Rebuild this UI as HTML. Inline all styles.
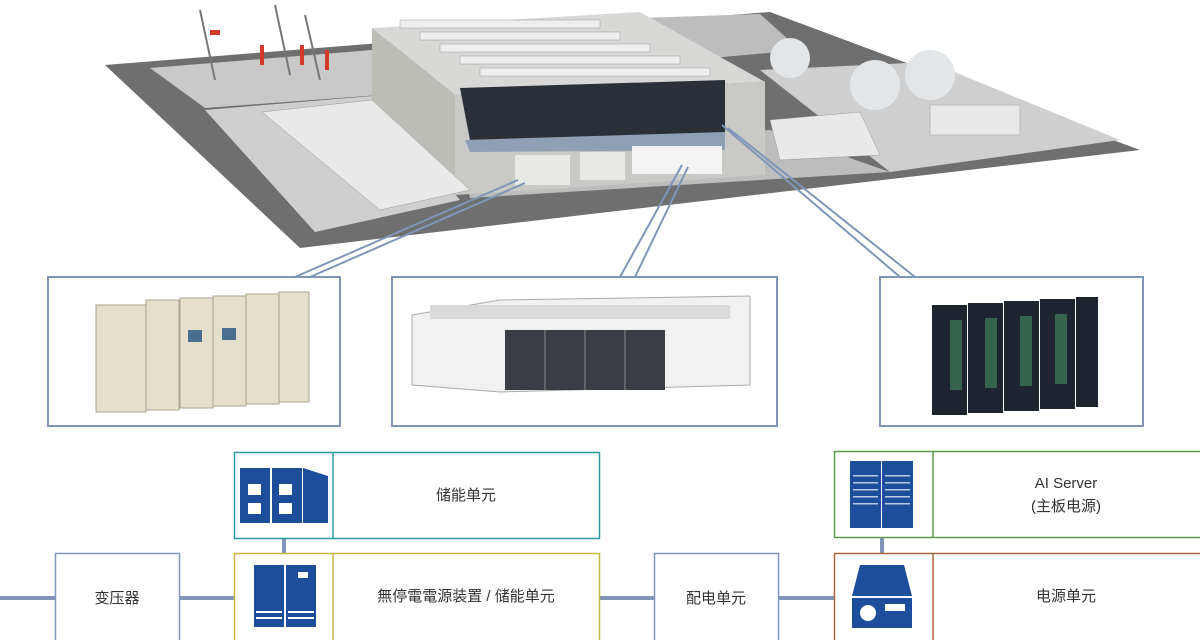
<!DOCTYPE html>
<html><head><meta charset="utf-8"><style>
html,body{margin:0;padding:0;background:#fff;}
svg{display:block;}
text{font-family:"Liberation Sans","Noto Sans CJK SC",sans-serif;fill:#333;}
</style></head><body>
<svg width="1200" height="640" viewBox="0 0 1200 640" xmlns="http://www.w3.org/2000/svg">
<!-- ground -->
<polygon points="105,65 770,12 1140,150 300,248" fill="#6f6f70"/>
<polygon points="150,68 372,50 380,95 205,108" fill="#c9c9c9"/>
<polygon points="205,110 372,96 460,200 315,232" fill="#cfcfcf"/>
<polygon points="760,70 930,62 1120,140 890,172" fill="#cfcfcf"/>
<polygon points="640,18 760,14 800,50 690,60" fill="#bdbdbd"/>
<polygon points="460,150 770,130 890,172 470,198" fill="#bdbdbd"/>
<!-- building -->
<polygon points="372,28 640,12 765,82 455,95" fill="#d8d8d6"/>
<polygon points="372,28 455,95 455,195 372,150" fill="#bdbdb8"/>
<polygon points="455,95 765,82 765,175 455,195" fill="#c9c9c5"/>
<polygon points="460,88 725,80 725,135 470,140" fill="#2b2f38"/>
<polygon points="465,140 725,132 725,150 470,152" fill="#8fa0b5"/>
<g fill="#e8e8e4">
<rect x="515" y="155" width="55" height="30"/><rect x="580" y="152" width="45" height="28"/>
<rect x="632" y="146" width="90" height="28" fill="#f3f3f3"/>
</g>
<!-- rooftop units -->
<g fill="#eeeeee" stroke="#999" stroke-width="0.5">
<rect x="400" y="20" width="200" height="8"/><rect x="420" y="32" width="200" height="8"/>
<rect x="440" y="44" width="210" height="8"/><rect x="460" y="56" width="220" height="8"/>
<rect x="480" y="68" width="230" height="8"/>
</g>
<!-- side equipment -->
<g fill="#e9e9e9" stroke="#999" stroke-width="0.5">
<polygon points="262,112 372,100 470,190 380,210"/>
<polygon points="770,120 860,112 880,155 780,160"/>
<rect x="930" y="105" width="90" height="30"/>
</g>
<circle cx="790" cy="58" r="20" fill="#e3e6e8"/><circle cx="875" cy="85" r="25" fill="#e3e6e8"/><circle cx="930" cy="75" r="25" fill="#e3e6e8"/>
<g stroke="#777" stroke-width="2"><line x1="200" y1="10" x2="215" y2="80"/><line x1="275" y1="5" x2="290" y2="75"/><line x1="305" y1="15" x2="320" y2="80"/></g>
<g fill="#d23b2a"><rect x="260" y="45" width="4" height="20"/><rect x="300" y="45" width="4" height="20"/><rect x="325" y="50" width="4" height="20"/><rect x="210" y="30" width="10" height="5"/></g>
<!-- callout lines -->
<g stroke="#7f96b8" stroke-width="2" fill="none">
<line x1="518" y1="180" x2="295" y2="277"/><line x1="525" y1="183" x2="310" y2="277"/>
<line x1="682" y1="165" x2="620" y2="277"/><line x1="688" y1="167" x2="635" y2="277"/>
<line x1="722" y1="125" x2="900" y2="277"/><line x1="728" y1="128" x2="915" y2="277"/>
</g>
<!-- detail boxes -->
<g stroke="#7f96b8" stroke-width="2" fill="#fff">
<rect x="48" y="277" width="292" height="149"/>
<rect x="392" y="277" width="385" height="149"/>
<rect x="880" y="277" width="263" height="149"/>
</g>
<!-- cabinets -->
<g fill="#e4e0cc" stroke="#a9a48c" stroke-width="1">
<rect x="96" y="305" width="50" height="107"/><rect x="146" y="300" width="33" height="110"/>
<rect x="180" y="298" width="33" height="110"/><rect x="213" y="296" width="33" height="110"/>
<rect x="246" y="294" width="33" height="110"/><rect x="279" y="292" width="30" height="110"/>
</g>
<g fill="#4a6f8e"><rect x="188" y="330" width="14" height="12"/><rect x="222" y="328" width="14" height="12"/></g>
<!-- container -->
<polygon points="412,315 500,300 750,296 750,385 500,392 412,385" fill="#f1f1f1" stroke="#aaa"/>
<rect x="505" y="330" width="160" height="60" fill="#3a3d44"/>
<g stroke="#888"><line x1="545" y1="330" x2="545" y2="390"/><line x1="585" y1="330" x2="585" y2="390"/><line x1="625" y1="330" x2="625" y2="390"/></g>
<rect x="430" y="305" width="300" height="14" fill="#d9d9d9"/>
<!-- racks -->
<g fill="#1f2530"><rect x="932" y="305" width="35" height="110"/><rect x="968" y="303" width="35" height="110"/><rect x="1004" y="301" width="35" height="110"/><rect x="1040" y="299" width="35" height="110"/><rect x="1076" y="297" width="22" height="110"/></g>
<g fill="#4aa36a"><rect x="950" y="320" width="12" height="70" opacity=".5"/><rect x="985" y="318" width="12" height="70" opacity=".5"/><rect x="1020" y="316" width="12" height="70" opacity=".5"/><rect x="1055" y="314" width="12" height="70" opacity=".5"/></g>
<!-- bottom connectors -->
<g stroke="#7f96b8" stroke-width="4">
<line x1="0" y1="598" x2="55" y2="598"/><line x1="179" y1="598" x2="234" y2="598"/>
<line x1="599" y1="598" x2="654" y2="598"/><line x1="779" y1="598" x2="834" y2="598"/>
<line x1="284" y1="538" x2="284" y2="553"/><line x1="882" y1="537" x2="882" y2="553"/>
</g>
<g fill="#fff" stroke-width="1.5">
<rect x="55.5" y="553.5" width="124" height="90" stroke="#7f96b8"/>
<rect x="654.5" y="553.5" width="124" height="90" stroke="#7f96b8"/>
<rect x="234.5" y="452.5" width="365" height="86" stroke="#2e9aa0"/>
<rect x="234.5" y="553.5" width="365" height="90" stroke="#c8b844"/>
<rect x="834.5" y="451.5" width="370" height="86" stroke="#5e9a4e"/>
<rect x="834.5" y="553.5" width="370" height="90" stroke="#b0643a"/>
</g>
<g stroke-width="1.5"><line x1="333" y1="452" x2="333" y2="538" stroke="#2e9aa0"/><line x1="333" y1="553" x2="333" y2="640" stroke="#c8b844"/>
<line x1="933" y1="451" x2="933" y2="537" stroke="#5e9a4e"/><line x1="933" y1="553" x2="933" y2="640" stroke="#b0643a"/></g>
<!-- icons -->
<g fill="#1d4e9c">
<rect x="240" y="468" width="30" height="55"/><rect x="272" y="468" width="30" height="55"/><polygon points="303,468 328,476 328,523 303,523"/>
<rect x="254" y="565" width="30" height="62"/><rect x="286" y="565" width="30" height="62"/>
<rect x="850" y="461" width="31" height="67"/><rect x="882" y="461" width="31" height="67"/>
<polygon points="860,565 904,565 912,596 852,596"/><rect x="852" y="598" width="60" height="30"/>
</g>
<g fill="#fff">
<rect x="248" y="484" width="13" height="11"/><rect x="279" y="484" width="13" height="11"/><rect x="248" y="503" width="13" height="11"/><rect x="279" y="503" width="13" height="11"/>
<rect x="256" y="611" width="26" height="2"/><rect x="256" y="617" width="26" height="2"/><rect x="288" y="611" width="26" height="2"/><rect x="288" y="617" width="26" height="2"/>
<rect x="298" y="572" width="10" height="6"/>
<circle cx="868" cy="613" r="8"/><rect x="885" y="604" width="20" height="7"/>
</g>
<g fill="#fff" opacity=".7"><rect x="853" y="475" width="25" height="1.5"/><rect x="853" y="482" width="25" height="1.5"/><rect x="853" y="489" width="25" height="1.5"/><rect x="853" y="496" width="25" height="1.5"/><rect x="853" y="503" width="25" height="1.5"/><rect x="885" y="475" width="25" height="1.5"/><rect x="885" y="482" width="25" height="1.5"/><rect x="885" y="489" width="25" height="1.5"/><rect x="885" y="496" width="25" height="1.5"/><rect x="885" y="503" width="25" height="1.5"/></g>
<!-- labels -->
<g font-size="15" text-anchor="middle">
<text x="117" y="603">变压器</text>
<text x="716" y="603">配电单元</text>
<text x="466" y="500">储能单元</text>
<text x="466" y="601">無停電電源装置 / 储能单元</text>
<text x="1066" y="488">AI Server</text>
<text x="1066" y="511">(主板电源)</text>
<text x="1066" y="601">电源单元</text>
</g>
</svg>
</body></html>
